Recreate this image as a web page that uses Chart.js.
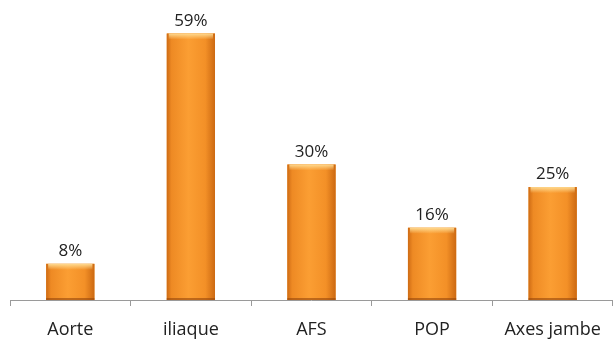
<!DOCTYPE html>
<html>
<head>
<meta charset="utf-8">
<script src="https://cdn.jsdelivr.net/npm/chart.js@4"></script>
<style>
  html, body { margin: 0; padding: 0; background: #ffffff; }
  #wrap { width: 614px; height: 343px; }
</style>
</head>
<body>
<div id="wrap"><canvas id="chart"></canvas></div>
<script>
// Données
const categories = ['Aorte', 'iliaque', 'AFS', 'POP', 'Axes jambe'];
const percents = [8, 59, 30, 16, 25];

// Ombrage orange de chaque barre (bords sombres, centre clair, reflet en haut)
const barShading = {
    id: 'barShading',
    afterDatasetsDraw(chart) {
        const ctx = chart.ctx;
        ctx.save();
        chart.getDatasetMeta(0).data.forEach(function(bar) {
            const p = bar.getProps(['x', 'y', 'base', 'width'], true);
            const x0 = p.x - p.width / 2;
            const x1 = p.x + p.width / 2;
            const g = ctx.createLinearGradient(x0, 0, x1, 0);
            g.addColorStop(0, '#CE6B14');
            g.addColorStop(0.1, '#EE8A24');
            g.addColorStop(0.45, '#FB9E33');
            g.addColorStop(0.8, '#F39027');
            g.addColorStop(1, '#CC6912');
            ctx.fillStyle = g;
            ctx.fillRect(x0, p.y, p.width, p.base - p.y);

            const h = ctx.createLinearGradient(0, p.y, 0, p.y + 6);
            h.addColorStop(0, 'rgba(255,222,150,0.95)');
            h.addColorStop(1, 'rgba(255,222,150,0)');
            ctx.fillStyle = h;
            ctx.fillRect(x0 + 2, p.y, p.width - 4, 6);

            // bord inférieur plus sombre
            ctx.fillStyle = 'rgba(150,70,10,0.6)';
            ctx.fillRect(x0, p.base - 2, p.width, 2);
        });
        ctx.restore();
    }
};

// Étiquettes de pourcentage au-dessus des barres
const valueLabels = {
    id: 'valueLabels',
    afterDatasetsDraw(chart) {
        const ctx = chart.ctx;
        const meta = chart.getDatasetMeta(0);
        ctx.save();
        ctx.fillStyle = '#222222';
        ctx.font = '17px "Open Sans", sans-serif';
        ctx.textAlign = 'center';
        ctx.textBaseline = 'alphabetic';
        meta.data.forEach(function(bar, i) {
            ctx.fillText(percents[i] + '%', bar.x, bar.y - 8);
        });
        ctx.restore();
    }
};

const config = {
    type: 'bar',
    data: {
        labels: categories,
        datasets: [{
            data: percents,
            backgroundColor: '#F39226',
            borderWidth: 0,
            barPercentage: 0.8,
            categoryPercentage: 0.5
        }]
    },
    options: {
        responsive: true,
        maintainAspectRatio: false,
        animation: false,
        layout: { padding: { left: 10, right: 1, top: 29, bottom: 0 } },
        plugins: {
            legend: { display: false },
            tooltip: { enabled: false }
        },
        scales: {
            x: {
                afterFit: function(scale) { scale.height = 43; },
                grid: {
                    offset: true,
                    drawOnChartArea: false,
                    drawTicks: true,
                    tickLength: 6,
                    color: '#9a9a9a'
                },
                border: { color: '#9a9a9a', width: 1 },
                ticks: {
                    color: '#222222',
                    font: { family: '"Open Sans", sans-serif', size: 18 },
                    padding: 13,
                    maxRotation: 0
                }
            },
            y: {
                display: false,
                min: 0,
                max: 60
            }
        }
    },
    plugins: [barShading, valueLabels]
};

new Chart(document.getElementById('chart'), config);
</script>
</body>
</html>
